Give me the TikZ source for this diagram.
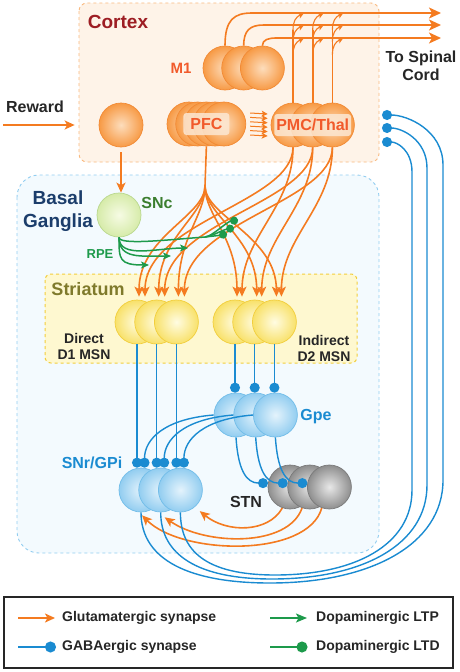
\documentclass[tikz,border=0pt]{standalone}
\usepackage{fontspec}
\setmainfont{Liberation Sans}
\usetikzlibrary{arrows.meta, positioning, calc}
\definecolor{GluOrange}{HTML}{F47B20}
\definecolor{GabaBlue}{HTML}{1A8BD1}
\definecolor{DopaGreen}{HTML}{1D9A4B}
\definecolor{CortexRed}{HTML}{9D1D23}
\definecolor{AreaRed}{HTML}{F15A2B}
\definecolor{BasalNavy}{HTML}{1B3D6B}
\definecolor{SncGreen}{HTML}{3B7E2F}
\definecolor{StriOlive}{HTML}{7F7A2B}
\definecolor{InkGrey}{HTML}{262626}
\definecolor{LabelCream}{HTML}{FCE7D2}
% cell colours
\definecolor{OrangeIn}{HTML}{FDDDBC}
\definecolor{OrangeOut}{HTML}{F79A45}
\definecolor{OrangeRim}{HTML}{F28A35}
\definecolor{YellowIn}{HTML}{FFFCE2}
\definecolor{YellowOut}{HTML}{F8E16A}
\definecolor{YellowRim}{HTML}{F2CE3C}
\definecolor{BlueIn}{HTML}{E4F3FC}
\definecolor{BlueOut}{HTML}{92CDF0}
\definecolor{BlueRim}{HTML}{72BDE9}
\definecolor{GreyIn}{HTML}{E8E8E8}
\definecolor{GreyOut}{HTML}{8E8E8E}
\definecolor{GreyRim}{HTML}{7A7A7A}
\definecolor{GreenIn}{HTML}{F6FBE4}
\definecolor{GreenOut}{HTML}{D6EBA9}
\definecolor{GreenRim}{HTML}{B9D88E}
\newcommand{\sizeL}{\bfseries\fontsize{19}{23}\selectfont}
\newcommand{\sizeM}{\bfseries\fontsize{16}{18}\selectfont}
\newcommand{\sizeS}{\bfseries\fontsize{14}{16}\selectfont}

\begin{document}
\begin{tikzpicture}[x=1pt, y=-1pt]
    \tikzstyle{cell} = [circle, minimum size=44pt, inner sep=0pt, line width=0.7pt]
    \tikzstyle{orangecell} = [cell, draw=OrangeRim, inner color=OrangeIn, outer color=OrangeOut]
    \tikzstyle{yellowcell} = [cell, draw=YellowRim, inner color=YellowIn, outer color=YellowOut]
    \tikzstyle{bluecell} = [cell, draw=BlueRim, inner color=BlueIn, outer color=BlueOut]
    \tikzstyle{greycell} = [cell, draw=GreyRim, inner color=GreyIn, outer color=GreyOut]
    \tikzstyle{greencell} = [cell, draw=GreenRim, inner color=GreenIn, outer color=GreenOut]
    \tikzstyle{lbl} = [inner sep=0pt, align=center, font=\sizeM]
    \tikzstyle{arealbl} = [rounded corners=3pt, fill=LabelCream, fill opacity=0.85, text opacity=1, text=AreaRed, inner xsep=2pt, inner ysep=0pt, minimum height=22pt, font=\sizeM]
    \tikzstyle{legtext} = [inner sep=0pt, anchor=west, font=\bfseries\fontsize{14}{16}\selectfont, text=InkGrey]
    \tikzstyle{gluline} = [draw=GluOrange, line width=1.6pt]
    \tikzstyle{glu} = [gluline, -{Stealth[length=10pt, width=9pt, inset=2.5pt]}]
    \tikzstyle{gluspinal} = [gluline, -{Stealth[length=12pt, width=11pt, inset=3pt]}]
    \tikzstyle{glutiny} = [draw=GluOrange, line width=1.1pt, -{Stealth[length=6pt, width=6pt, inset=1.5pt]}]
    \tikzstyle{gaba} = [draw=GabaBlue, line width=1.4pt, -{Circle[length=10pt]}]
    \tikzstyle{dopaline} = [draw=DopaGreen, line width=1.5pt]
    \tikzstyle{ltp} = [dopaline, -{Stealth[length=8pt, width=7pt, inset=2pt]}]
    \tikzstyle{ltd} = [dopaline, -{Circle[length=8pt]}]

    \useasboundingbox (0,0) rectangle (459,672);

    % regions
    \draw[draw=OrangeOut!70, fill=OrangeIn!35, dashed, line width=0.9pt, rounded corners=8pt] (79,3) rectangle (379,162);
    \draw[draw=BlueOut, fill=BlueIn!45, dashed, line width=0.9pt, rounded corners=22pt] (17,175) rectangle (379,553);
    \draw[draw=YellowRim, fill=YellowIn!85!YellowOut, dashed, line width=1pt, rounded corners=6pt] (45,274) rectangle (357,363);

    \node (cortexlbl) [lbl, font=\sizeL, text=CortexRed] at (118,22) {Cortex};
    \node (basallbl) [lbl, font=\sizeL, text=BasalNavy] at (58,211) {Basal\\Ganglia};
    \node (strilbl) [lbl, font=\bfseries\fontsize{18}{20}\selectfont, text=StriOlive] at (88,289) {Striatum};

    % cortex cells
    \node (m1a) [orangecell] at (225,68) {};
    \node (m1b) [orangecell, right=-26pt of m1a] {};
    \node (m1c) [orangecell, right=-26pt of m1b] {};
    \node (rew) [orangecell] at (121,125) {};
    \node (pfc1) [orangecell] at (189,124) {};
    \node (pfc2) [orangecell, right=-36pt of pfc1] {};
    \node (pfc3) [orangecell, right=-36pt of pfc2] {};
    \node (pfc4) [orangecell, right=-36pt of pfc3] {};
    \node (pfc5) [orangecell, right=-36pt of pfc4] {};
    \node (pmc1) [orangecell] at (293,125) {};
    \node (pmc2) [orangecell, right=-25pt of pmc1] {};
    \node (pmc3) [orangecell, right=-25pt of pmc2] {};

    % basal ganglia cells
    \node (snc) [greencell] at (119,215) {};
    \node (d1a) [yellowcell] at (137,322) {};
    \node (d1b) [yellowcell, right=-25pt of d1a] {};
    \node (d1c) [yellowcell, right=-25pt of d1b] {};
    \node (d2a) [yellowcell] at (235,322) {};
    \node (d2b) [yellowcell, right=-25pt of d2a] {};
    \node (d2c) [yellowcell, right=-25pt of d2b] {};
    \node (gpe1) [bluecell] at (236,415) {};
    \node (gpe2) [bluecell, right=-25pt of gpe1] {};
    \node (gpe3) [bluecell, right=-25pt of gpe2] {};
    \node (snr1) [bluecell] at (141,490) {};
    \node (snr2) [bluecell, right=-25pt of snr1] {};
    \node (snr3) [bluecell, right=-25pt of snr2] {};
    \node (stn1) [greycell] at (290,487) {};
    \node (stn2) [greycell, right=-25pt of stn1] {};
    \node (stn3) [greycell, right=-25pt of stn2] {};

    % cell labels
    \node (m1lbl) [lbl, font=\bfseries\fontsize{15}{17}\selectfont, text=AreaRed, left=11pt of m1a] {M1};
    \node (spinallbl) [lbl, text=InkGrey] at (421,66) {To Spinal\\Cord};
    \node (rewlbl) [lbl, text=InkGrey] at (35,107) {Reward};
    \node (snclbl) [lbl, text=SncGreen] at (157,203) {SNc};
    \node (rpelbl) [lbl, font=\bfseries\fontsize{13}{15}\selectfont, text=DopaGreen] at (100,254) {RPE};
    \node (d1lbl) [lbl, font=\sizeS, text=InkGrey] at (84,346) {Direct\\D1 MSN};
    \node (d2lbl) [lbl, font=\sizeS, text=InkGrey] at (324,348) {Indirect\\D2 MSN};
    \node (gpelbl) [lbl, text=GabaBlue] at (316,417) {Gpe};
    \node (snrlbl) [lbl, text=GabaBlue] at (92,463) {SNr/GPi};
    \node (stnlbl) [lbl, text=InkGrey] at (246,502) {STN};

    % reward input
    \coordinate (rewin) at (3,125);
    \draw[glu] (rewin) -- ([xshift=-24pt]rew.west);
    \draw[glu, shorten <=5pt] (rew.south) -- (rew.south |- snc.north);

    % M1 to spinal cord
    \coordinate (sp1) at (441,13);
    \coordinate (sp2) at (441,25);
    \coordinate (sp3) at (441,38);
    \draw[gluspinal] (m1a.north) .. controls +(0,-26) and +(-18,0) .. ($(m1a.north |- sp1)+(27,0)$) -- (sp1);
    \draw[gluspinal] (m1b.north) .. controls +(0,-15) and +(-14,0) .. ($(m1b.north |- sp2)+(20,0)$) -- (sp2);
    \draw[gluspinal] (m1c.north) .. controls +(0,-6) and +(-8,0) .. ($(m1c.north |- sp3)+(14,0)$) -- (sp3);

    % PMC/Thal up to the M1 axons
    \foreach \c in {pmc1,pmc2,pmc3} {
        \draw[gluline] (\c.north) -- ($(\c.north |- sp1)+(0,17)$);
        \foreach \s in {sp1,sp2,sp3}
            \draw[glutiny] ($(\c.north |- \s)+(0,17)$) .. controls +(0,-9) and +(-8,4) .. ($(\c.north |- \s)+(11,0)$);
    }

    % PFC to PMC/Thal
    \foreach \dy in {-11,-6.6,-2.2,2.2,6.6,11}
        \draw[glutiny, line width=1pt] ([shift={(4pt,\dy*1pt)}]pfc5.east) -- ([shift={(-3pt,\dy*1pt)}]pmc1.west);

    % PFC and PMC/Thal to striatum
    \coordinate (fan) at (205,186);
    \draw[gluline] (pfc3.south) -- (fan);
    \foreach \t in {d1a,d1b,d1c,d2a,d2b,d2c}
        \draw[glu] (fan) .. controls +(0,30) and +(0,-60) .. ([shift={(2pt,3pt)}]\t.north);
    \foreach \c/\d/\i in {pmc1/d1a/d2a, pmc2/d1b/d2b, pmc3/d1c/d2c} {
        \draw[glu] (\c.south) .. controls +(0,55) and +(0,-75) .. ([shift={(8pt,3pt)}]\d.north);
        \draw[glu] (\c.south) .. controls +(0,60) and +(0,-60) .. ([shift={(7pt,3pt)}]\i.north);
    }

    % dopamine from SNc
    \coordinate (dafork) at (205,237);
    \coordinate (ltd1) at (238,220);
    \coordinate (ltd2) at (234,228);
    \coordinate (ltd3) at (227,234);
    \coordinate (ltp1) at (188,248);
    \coordinate (ltp2) at (171,256);
    \coordinate (ltp3) at (149,265);
    \draw[dopaline] (snc.south) .. controls +(0,8) and +(-40,3) .. (dafork);
    \foreach \p in {ltd1,ltd2,ltd3}
        \draw[ltd] (dafork) .. controls +(8,-1) and +(-12,2) .. (\p);
    \foreach \p in {ltp1,ltp2,ltp3}
        \draw[ltp] (snc.south) .. controls +(0,22) and +(-30,0) .. (\p);

    % striatum outputs
    \foreach \d/\s in {d1a/snr1, d1b/snr2, d1c/snr3}
        \draw[gaba] (\d.south) -- (\d.south |- \s.north);
    \foreach \i/\g in {d2a/gpe1, d2b/gpe2, d2c/gpe3}
        \draw[gaba] (\i.south) -- (\i.south |- \g.north);

    % Gpe outputs
    \foreach \g/\s in {gpe1/snr1, gpe2/snr2, gpe3/snr3}
        \draw[gaba] (\g.west) .. controls +(-50,4) and +(0,-28) .. ([xshift=3.5pt]\s.north);
    \foreach \g/\t in {gpe1/stn1, gpe2/stn2, gpe3/stn3}
        \draw[gaba] (\g.south) .. controls +(2,32) and +(-22,0) .. (\t.170);

    % STN to SNr/GPi
    \draw[glu] (stn1.250) .. controls +(-14,25) and +(27,22) .. ([shift={(5pt,-4pt)}]snr3.-50);
    \draw[glu] (stn2.250) .. controls +(-14,40) and +(40,28) .. ([shift={(4pt,-5pt)}]snr2.south);
    \draw[glu] (stn3.250) .. controls +(-14,50) and +(40,40) .. ([shift={(1pt,-3pt)}]snr1.south);

    % SNr/GPi back to thalamus
    \coordinate (th1) at (382,115);
    \coordinate (th2) at (382,128);
    \coordinate (th3) at (382,142);
    \draw[gaba] (snr1.south) .. controls +(0,48) and +(-80,0) .. (270,583) .. controls +(100,0) and +(0,65) .. (443,480) -- (443,165) .. controls +(0,-35) and +(25,0) .. (th1);
    \draw[gaba] (snr2.south) .. controls +(0,42) and +(-75,0) .. (272,579) .. controls +(90,0) and +(0,60) .. (427,485) -- (427,168) .. controls +(0,-28) and +(20,0) .. (th2);
    \draw[gaba] (snr3.south) .. controls +(0,38) and +(-70,0) .. (275,575) .. controls +(80,0) and +(0,55) .. (412,490) -- (412,172) .. controls +(0,-22) and +(15,0) .. (th3);

    % area labels on top
    \node (pfclbl) [arealbl, minimum width=46pt] at (pfc3) {PFC};
    \node (pmclbl) [arealbl] at (pmc2) {PMC/Thal};

    % legend
    \draw[draw=InkGrey, line width=1.1pt] (4,597) rectangle (453,668);
    \node (lgglu) [legtext] at (62,618) {Glutamatergic synapse};
    \node (lggaba) [legtext] at (62,647) {GABAergic synapse};
    \node (lgltp) [legtext] at (316,618) {Dopaminergic LTP};
    \node (lgltd) [legtext] at (316,647) {Dopaminergic LTD};
    \draw[glu, line width=1.8pt] ([xshift=-44pt]lgglu.west) -- ([xshift=-7pt]lgglu.west);
    \draw[gaba, -{Circle[length=11pt]}] ([xshift=-44pt]lggaba.west) -- ([xshift=-6pt]lggaba.west);
    \draw[ltp, -{Stealth[length=11pt, width=9pt, inset=2.5pt]}] ([xshift=-46pt]lgltp.west) -- ([xshift=-9pt]lgltp.west);
    \draw[ltd, -{Circle[length=11pt]}] ([xshift=-46pt]lgltd.west) -- ([xshift=-8.5pt]lgltd.west);
\end{tikzpicture}
\end{document}
